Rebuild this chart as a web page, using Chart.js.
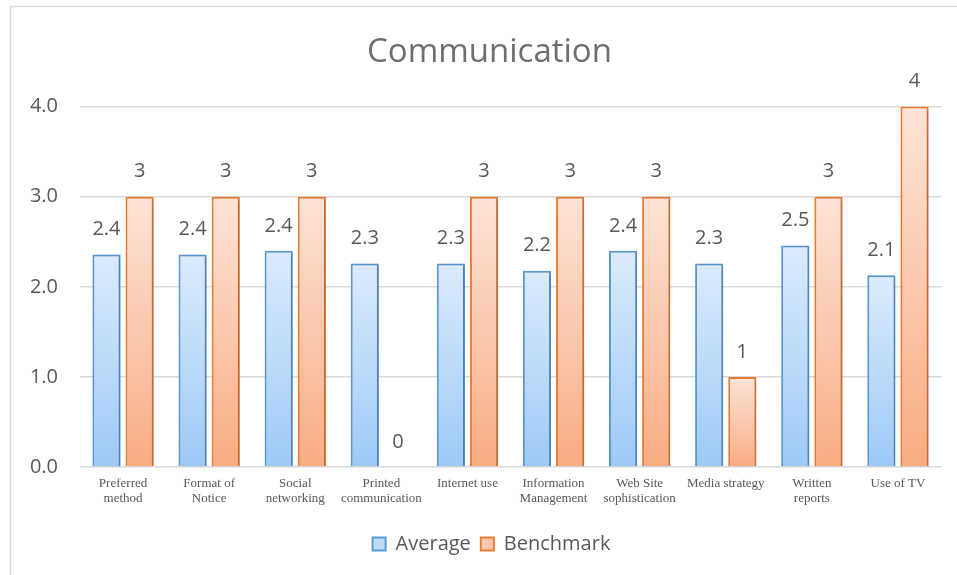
<!DOCTYPE html>
<html>
<head>
<meta charset="utf-8">
<script src="https://cdn.jsdelivr.net/npm/chart.js@4"></script>
<style>
  html, body { margin: 0; padding: 0; background: #fff; }
  #wrap { width: 957px; height: 575px; }
</style>
</head>
<body>
<div id="wrap"><canvas id="myChart"></canvas></div>
<script>
const categories = [
  ['Preferred', 'method'], ['Format of', 'Notice'], ['Social', 'networking'],
  ['Printed', 'communication'], 'Internet use', ['Information', 'Management'],
  ['Web Site', 'sophistication'], 'Media strategy', ['Written', 'reports'], 'Use of TV'
];
const averageValues = [2.36, 2.36, 2.40, 2.26, 2.26, 2.18, 2.40, 2.26, 2.46, 2.13];
const benchmarkValues = [3, 3, 3, 0, 3, 3, 3, 1, 3, 4];
const yTicks = [0, 1, 2, 3, 4];

function barGradient(top, bottom) {
  return function (c) {
    const chart = c.chart;
    if (!chart.chartArea || !c.parsed) return bottom;
    const y = chart.scales.y;
    const y0 = y.getPixelForValue(0);
    const y1 = y.getPixelForValue(c.parsed.y);
    if (y0 - y1 < 1) return top;
    const g = chart.ctx.createLinearGradient(0, y1, 0, y0);
    g.addColorStop(0, top);
    g.addColorStop(1, bottom);
    return g;
  };
}

// frame around the chart like the office export
const framePlugin = {
  id: 'frame',
  beforeDraw(chart) {
    const ctx = chart.ctx;
    ctx.save();
    ctx.strokeStyle = '#d9d9d9';
    ctx.lineWidth = 1.5;
    ctx.strokeRect(10.5, 6.5, 1200, 1200);
    ctx.restore();
  }
};

// title and legend sit centred on the whole frame, not on the padded box
const shiftPlugin = {
  id: 'shiftBoxes',
  afterLayout(chart) {
    chart.titleBlock.left += 19;
    chart.titleBlock.right += 19;
    chart.legend.left += 21;
    chart.legend.right += 21;
  }
};

const shadowPlugin = {
  id: 'barShadow',
  beforeDatasetsDraw(chart) {
    const ctx = chart.ctx;
    ctx.save();
    ctx.shadowColor = 'rgba(0,0,0,0.22)';
    ctx.shadowBlur = 4;
    ctx.shadowOffsetX = 2;
    ctx.shadowOffsetY = 1;
  },
  afterDatasetsDraw(chart) {
    chart.ctx.restore();
  }
};

const valueLabels = {
  id: 'valueLabels',
  afterDraw(chart) {
    const ctx = chart.ctx;
    ctx.save();
    ctx.font = '20px "Open Sans"';
    ctx.fillStyle = '#595959';
    ctx.textAlign = 'center';
    ctx.textBaseline = 'middle';
    chart.data.datasets.forEach((ds, di) => {
      chart.getDatasetMeta(di).data.forEach((bar, i) => {
        const v = ds.data[i];
        const txt = di === 0 ? v.toFixed(1) : String(v);
        ctx.fillText(txt, bar.x, bar.y - 25);
      });
    });
    ctx.restore();
  }
};

const ctx = document.getElementById('myChart');

new Chart(ctx, {
  type: 'bar',
  data: {
    labels: categories,
    datasets: [
      {
        label: 'Average',
        data: averageValues,
        backgroundColor: barGradient('#dcebfc', '#9ccaf7'),
        borderColor: '#5b9bd5',
        borderWidth: 2,
        barPercentage: 0.85,
        categoryPercentage: 0.77
      },
      {
        label: 'Benchmark',
        data: benchmarkValues,
        backgroundColor: barGradient('#fde4d8', '#f9ac82'),
        borderColor: '#ed7d31',
        borderWidth: 2,
        barPercentage: 0.85,
        categoryPercentage: 0.77
      }
    ]
  },
  options: {
    responsive: true,
    maintainAspectRatio: false,
    animation: false,
    layout: { padding: { left: 0, right: 16, top: 0, bottom: 11 } },
    plugins: {
      title: {
        display: true,
        text: 'Communication',
        color: '#6e6e6e',
        font: { family: '"Open Sans"', size: 33, weight: 'normal' },
        padding: { top: 33, bottom: 34 }
      },
      legend: {
        position: 'bottom',
        labels: {
          color: '#595959',
          font: { family: '"Open Sans"', size: 20 },
          boxWidth: 13,
          boxHeight: 13,
          padding: 10,
          generateLabels(chart) {
            const fills = ['#bcdcfa', '#fbc8ad'];
            return chart.data.datasets.map((ds, i) => ({
              text: ds.label,
              fillStyle: fills[i],
              strokeStyle: ds.borderColor,
              lineWidth: 2,
              fontColor: '#595959',
              datasetIndex: i
            }));
          }
        }
      },
      tooltip: { enabled: false }
    },
    scales: {
      y: {
        min: 0,
        max: 4,
        afterBuildTicks(scale) { scale.ticks = yTicks.map(v => ({ value: v })); },
        afterFit(scale) { scale.width = 80; },
        ticks: {
          color: '#595959',
          font: { family: '"Open Sans"', size: 20 },
          padding: 22,
          callback: v => v.toFixed(1)
        },
        grid: { color: '#d9d9d9', lineWidth: 1.5, drawTicks: false },
        border: { display: false }
      },
      x: {
        afterFit(scale) { scale.height = scale.height + 17; },
        ticks: {
          color: '#595959',
          font: { family: '"Liberation Serif"', size: 13, lineHeight: 1.15 },
          padding: 1,
          autoSkip: false,
          maxRotation: 0,
          minRotation: 0
        },
        grid: { display: false },
        border: { display: false }
      }
    }
  },
  plugins: [framePlugin, shiftPlugin, shadowPlugin, valueLabels]
});
</script>
</body>
</html>
